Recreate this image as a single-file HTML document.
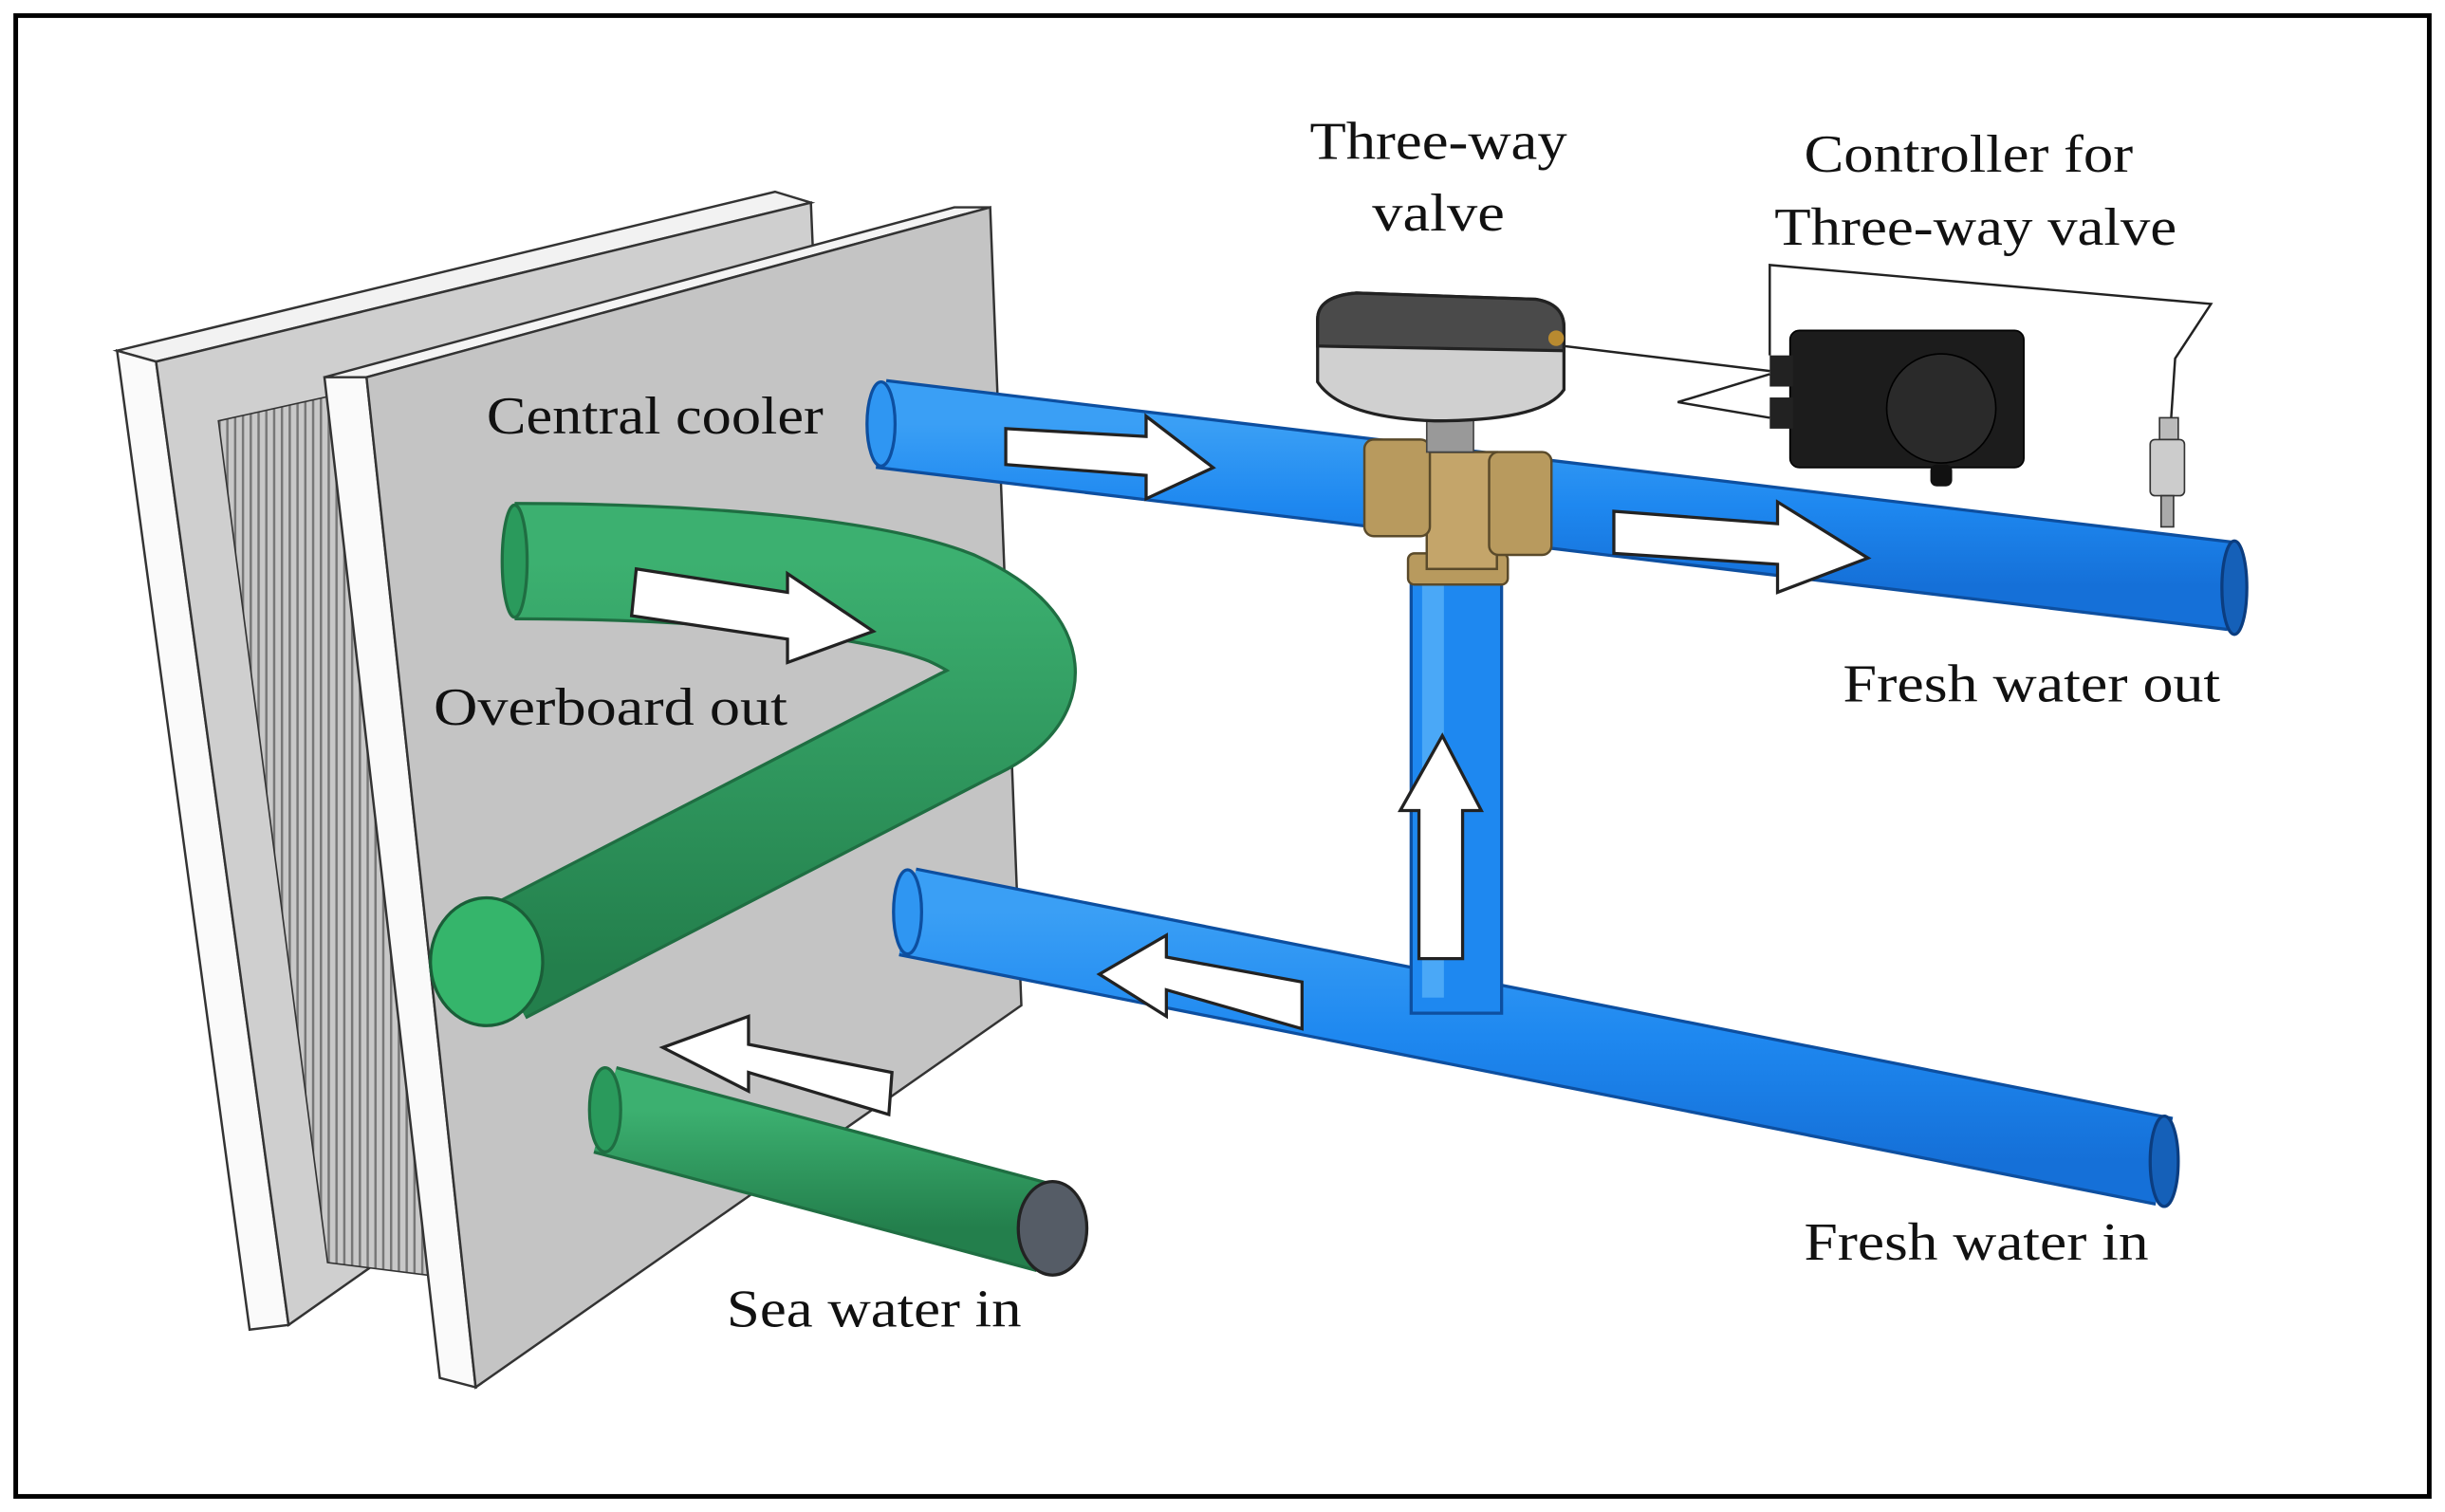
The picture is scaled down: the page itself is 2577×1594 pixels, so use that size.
<!DOCTYPE html>
<html><head><meta charset="utf-8"><style>
html,body{margin:0;padding:0;background:#fff}
svg{display:block}
text{font-family:"Liberation Serif",serif;font-size:34px;fill:#111}
</style></head><body>
<svg width="2577" height="1594" viewBox="0 0 1568 970" xmlns="http://www.w3.org/2000/svg">
<defs>
<linearGradient id="bl" x1="0" y1="0" x2="0" y2="1"><stop offset="0" stop-color="#3a9ff5"/><stop offset="0.5" stop-color="#1e88f0"/><stop offset="1" stop-color="#1570d8"/></linearGradient>
<linearGradient id="gr" x1="0" y1="0" x2="0" y2="1"><stop offset="0" stop-color="#3cb070"/><stop offset="1" stop-color="#237f4c"/></linearGradient>
<pattern id="fin" width="5" height="10" patternUnits="userSpaceOnUse"><rect width="5" height="10" fill="#c8c8c8"/><rect width="1.5" height="10" fill="#777"/></pattern>
</defs>
<rect x="0" y="0" width="1568" height="970" fill="#fff"/>
<rect x="10" y="10" width="1548" height="950" fill="none" stroke="#000" stroke-width="3"/>
<polygon points="75,225 497,123 520,130 100,232" fill="#f2f2f2" stroke="#333" stroke-width="1.5"/>
<polygon points="75,225 100,232 185,850 160,853" fill="#fafafa" stroke="#333" stroke-width="1.5"/>
<polygon points="100,232 520,130 540,600 185,850" fill="#cfcfcf" stroke="#333" stroke-width="1.5"/>
<polygon points="140,270 230,250 290,820 210,810" fill="url(#fin)" stroke="#333" stroke-width="1"/>
<polygon points="208,242 612,133 635,133 235,242" fill="#f4f4f4" stroke="#333" stroke-width="1.5"/>
<polygon points="208,242 235,242 305,890 282,884" fill="#fafafa" stroke="#333" stroke-width="1.5"/>
<polygon points="235,242 635,133 655,645 305,890" fill="#c4c4c4" stroke="#333" stroke-width="1.5"/>
<path d="M330,360 C450,360 560,370 610,390 C665,415 665,445 620,465 L320,620" fill="none" stroke="#1f6e42" stroke-width="76" stroke-linejoin="round"/>
<path d="M330,360 C450,360 560,370 610,390 C665,415 665,445 620,465 L320,620" fill="none" stroke="url(#gr)" stroke-width="72" stroke-linejoin="round"/>
<ellipse cx="330" cy="360" rx="8" ry="36" fill="#2a9a5c" stroke="#1f6e42" stroke-width="2"/>
<ellipse cx="312" cy="617" rx="36" ry="41" fill="#35b56b" stroke="#1a5e38" stroke-width="2"/>
<line x1="388" y1="712" x2="672" y2="788" stroke="#1f6e42" stroke-width="58"/>
<line x1="388" y1="712" x2="672" y2="788" stroke="url(#gr)" stroke-width="54"/>
<ellipse cx="388" cy="712" rx="10" ry="27" fill="#2a9a5c" stroke="#1f6e42" stroke-width="2"/>
<ellipse cx="675" cy="788" rx="22" ry="30" fill="#555c66" stroke="#222" stroke-width="2"/>
<line x1="582" y1="585" x2="1388" y2="745" stroke="#0d4fa0" stroke-width="58"/>
<line x1="582" y1="585" x2="1388" y2="745" stroke="url(#bl)" stroke-width="54"/>
<ellipse cx="582" cy="585" rx="9" ry="27" fill="#2f96f2" stroke="#0d4fa0" stroke-width="2"/>
<ellipse cx="1388" cy="745" rx="9" ry="29" fill="#1560b8" stroke="#0b3d80" stroke-width="2"/>
<rect x="905" y="365" width="58" height="285" fill="#1e88f0" stroke="#0d4fa0" stroke-width="2"/>
<rect x="912" y="365" width="14" height="275" fill="#4aa8f7"/>
<line x1="565" y1="272" x2="1432" y2="376" stroke="#0d4fa0" stroke-width="58"/>
<line x1="565" y1="272" x2="1432" y2="376" stroke="url(#bl)" stroke-width="54"/>
<ellipse cx="565" cy="272" rx="9" ry="27" fill="#2f96f2" stroke="#0d4fa0" stroke-width="2"/>
<ellipse cx="1433" cy="377" rx="8" ry="30" fill="#1560b8" stroke="#0b3d80" stroke-width="2"/>
<rect x="903" y="355" width="64" height="20" rx="4" fill="#b89a5e" stroke="#5a4a2a" stroke-width="1.5"/>
<rect x="915" y="290" width="45" height="75" fill="#c4a56a" stroke="#5a4a2a" stroke-width="1.5"/>
<rect x="875" y="282" width="42" height="62" rx="6" fill="#b89a5e" stroke="#5a4a2a" stroke-width="1.5"/>
<rect x="955" y="290" width="40" height="66" rx="6" fill="#b89a5e" stroke="#5a4a2a" stroke-width="1.5"/>
<rect x="915" y="265" width="30" height="25" fill="#999" stroke="#444"/>
<path d="M845,205 Q845,190 870,188 L985,192 Q1003,195 1003,210 L1003,250 Q990,270 920,270 Q860,268 845,245 Z" fill="#d0d0d0" stroke="#222" stroke-width="2"/>
<path d="M845,205 Q845,190 870,188 L985,192 Q1003,195 1003,210 L1003,225 L845,222 Z" fill="#4a4a4a" stroke="#222" stroke-width="2"/>
<circle cx="998" cy="217" r="5" fill="#b88a30"/>
<rect x="1148" y="212" width="150" height="88" rx="6" fill="#1c1c1c" stroke="#000"/>
<circle cx="1245" cy="262" r="35" fill="#2a2a2a" stroke="#000"/>
<rect x="1135" y="228" width="15" height="20" fill="#222"/>
<rect x="1135" y="255" width="15" height="20" fill="#222"/>
<rect x="1238" y="298" width="14" height="14" rx="4" fill="#111"/>
<polyline points="1003,222 1135,238" fill="none" stroke="#222" stroke-width="1.5"/>
<polyline points="1135,240 1076,258 1135,268" fill="none" stroke="#222" stroke-width="1.5"/>
<polyline points="1135,228 1135,170 1418,195 1395,230 1392,275" fill="none" stroke="#222" stroke-width="1.5"/>
<rect x="1385" y="268" width="12" height="14" fill="#bbb" stroke="#333"/>
<rect x="1379" y="282" width="22" height="36" rx="3" fill="#ccc" stroke="#333"/>
<rect x="1386" y="318" width="8" height="20" fill="#aaa" stroke="#333"/>
<g fill="#fff" stroke="#222" stroke-width="2" stroke-linejoin="miter">
<polygon points="645,275 735,280 735,267 778,300 735,320 735,305 645,298"/>
<polygon points="1035,328 1140,336 1140,322 1198,358 1140,380 1140,362 1035,355"/>
<polygon points="408,365 505,380 505,368 560,405 505,425 505,410 405,395"/>
<polygon points="910,615 910,520 898,520 925,472 950,520 938,520 938,615"/>
<polygon points="835,630 748,614 748,600 705,625 748,652 748,635 835,660"/>
<polygon points="572,688 480,670 480,652 425,672 480,700 480,688 570,715"/>
</g>
<text x="840" y="102" textLength="165" lengthAdjust="spacingAndGlyphs">Three-way</text>
<text x="880" y="148" textLength="85" lengthAdjust="spacingAndGlyphs">valve</text>
<text x="1157" y="110" textLength="211" lengthAdjust="spacingAndGlyphs">Controller for</text>
<text x="1138" y="157" textLength="258" lengthAdjust="spacingAndGlyphs">Three-way valve</text>
<text x="312" y="278" textLength="216" lengthAdjust="spacingAndGlyphs">Central cooler</text>
<text x="278" y="465" textLength="227" lengthAdjust="spacingAndGlyphs">Overboard out</text>
<text x="1182" y="450" textLength="242" lengthAdjust="spacingAndGlyphs">Fresh water out</text>
<text x="1157" y="808" textLength="221" lengthAdjust="spacingAndGlyphs">Fresh water in</text>
<text x="466" y="851" textLength="189" lengthAdjust="spacingAndGlyphs">Sea water in</text>
</svg>
</body></html>
